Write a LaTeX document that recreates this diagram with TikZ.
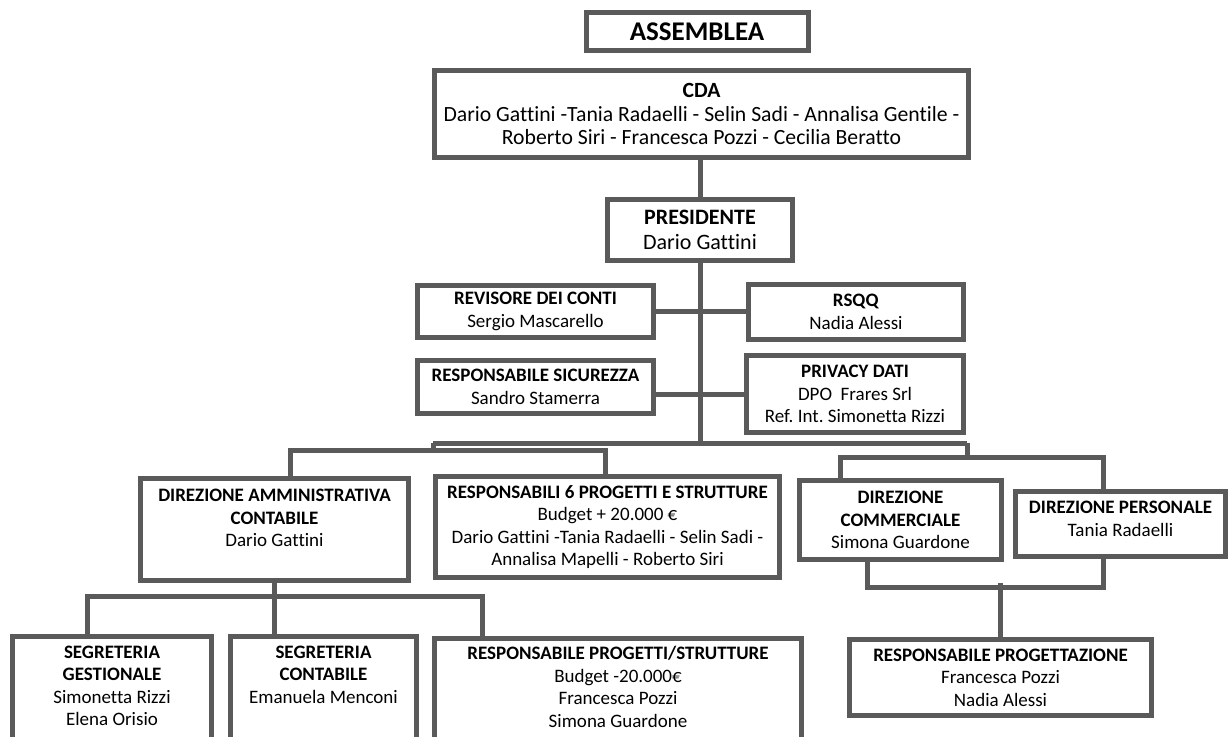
\documentclass[tikz,border=0pt]{standalone}
\usepackage{fontspec}
\setmainfont{Carlito}[Ligatures=CommonOff]
\frenchspacing
\definecolor{boxgray}{RGB}{90,90,90}
\begin{document}
\begin{tikzpicture}[x=1pt, y=-1pt,
  box/.style={draw=boxgray, line width=5pt, align=center, inner sep=0pt,
              font=\fontsize{19}{22.5}\selectfont},
  bigbox/.style={box, font=\fontsize{21.7}{23.5}\selectfont},
  link/.style={draw=boxgray, line width=5pt}]
  \useasboundingbox (0,0) rectangle (1231,736);
  % vertici
  \node[box, minimum width=222, minimum height=38,
        font=\bfseries\fontsize{27}{30}\selectfont] (assemblea) at (697,31.5) {ASSEMBLEA};
  \node[bigbox, minimum width=534, minimum height=87] (cda) at (701.5,114)
       {\textbf{CDA}\\Dario Gattini -Tania Radaelli - Selin Sadi - Annalisa Gentile -\\Roberto Siri - Francesca Pozzi - Cecilia Beratto};
  \node[bigbox, minimum width=185, minimum height=61,
        font=\fontsize{22}{25}\selectfont] (pres) at (700,230)
       {\textbf{PRESIDENTE}\\Dario Gattini};
  % staff
  \node[box, minimum width=236, minimum height=52] (revisore) at (535.5,311.5)
       {\textbf{REVISORE DEI CONTI}\\Sergio Mascarello};
  \node[box, minimum width=215, minimum height=55] (rsqq) at (856,312)
       {\textbf{RSQQ}\\Nadia Alessi};
  \node[box, minimum width=236, minimum height=53] (sicurezza) at (535.5,387)
       {\textbf{RESPONSABILE SICUREZZA}\\Sandro Stamerra};
  \node[box, minimum width=217, minimum height=77] (privacy) at (855,394)
       {\textbf{PRIVACY DATI}\\DPO\ \ Frares Srl\\Ref. Int. Simonetta Rizzi};
  % direzioni
  \node[box, minimum width=268, minimum height=102] (dam) at (274.5,529.5)
       {\textbf{DIREZIONE AMMINISTRATIVA}\\\textbf{CONTABILE}\\Dario Gattini\\\mbox{}};
  \node[box, minimum width=344, minimum height=101] (resp6) at (607.5,527)
       {\textbf{RESPONSABILI 6 PROGETTI E STRUTTURE}\\Budget + 20.000 €\\Dario Gattini -Tania Radaelli - Selin Sadi -\\Annalisa Mapelli - Roberto Siri};
  \node[box, minimum width=202, minimum height=79] (dcomm) at (900.5,520)
       {\textbf{DIREZIONE}\\\textbf{COMMERCIALE}\\Simona Guardone};
  \node[box, minimum width=210, minimum height=65] (dpers) at (1120.5,524)
       {\textbf{DIREZIONE PERSONALE}\\Tania Radaelli\\[-12pt]\mbox{}};
  % uffici
  \node[box, minimum width=199, minimum height=121] (seggest) at (112,697)
       {\textbf{SEGRETERIA}\\\textbf{GESTIONALE}\\Simonetta Rizzi\\Elena Orisio\\\mbox{}};
  \node[box, minimum width=186, minimum height=121] (segcont) at (323.5,697)
       {\textbf{SEGRETERIA}\\\textbf{CONTABILE}\\Emanuela Menconi\\\mbox{}\\\mbox{}};
  \node[box, minimum width=367, minimum height=119] (respps) at (618,698)
       {\textbf{RESPONSABILE PROGETTI/STRUTTURE}\\Budget -20.000€\\Francesca Pozzi\\Simona Guardone\\\mbox{}};
  \node[box, minimum width=302, minimum height=76] (respprog) at (1000.5,677.5)
       {\textbf{RESPONSABILE PROGETTAZIONE}\\Francesca Pozzi\\Nadia Alessi};
  % linee
  \coordinate (busL) at (433,443);
  \coordinate (busR) at (967,443);
  \draw[link] (pres.north |- cda.south) -- (pres.north);
  \draw[link] (pres.south) -- (pres.south |- busL);
  \draw[link] (revisore.east) -- (revisore.east -| rsqq.west);
  \draw[link] (sicurezza.east |- privacy.west) -- (privacy.west);
  \draw[link] (busL) -- (busR);
  \draw[link] (busL) -- ++(0,10);
  \draw[link] ([xshift=15.5pt]dam.north) -- ++(0,-25.5) -| ([xshift=-2.5pt]resp6.north);
  \draw[link] (busR) -- ++(0,17);
  \draw[link] ([xshift=-60pt]dcomm.north) -- ++(0,-20.5) -| ([xshift=-17.5pt]dpers.north);
  \draw[link] ([xshift=-33.5pt]dcomm.south) -- ++(0,25.5) -| ([xshift=-17.5pt]dpers.south);
  \draw[link] (respprog.north) -- ++(0,-54.5);
  \draw[link] (dam.south) -- (dam.south |- segcont.north);
  \draw[link] ([xshift=-25pt]seggest.north) -- ++(0,-38) -| ([xshift=-136pt]respps.north);
\end{tikzpicture}
\end{document}
